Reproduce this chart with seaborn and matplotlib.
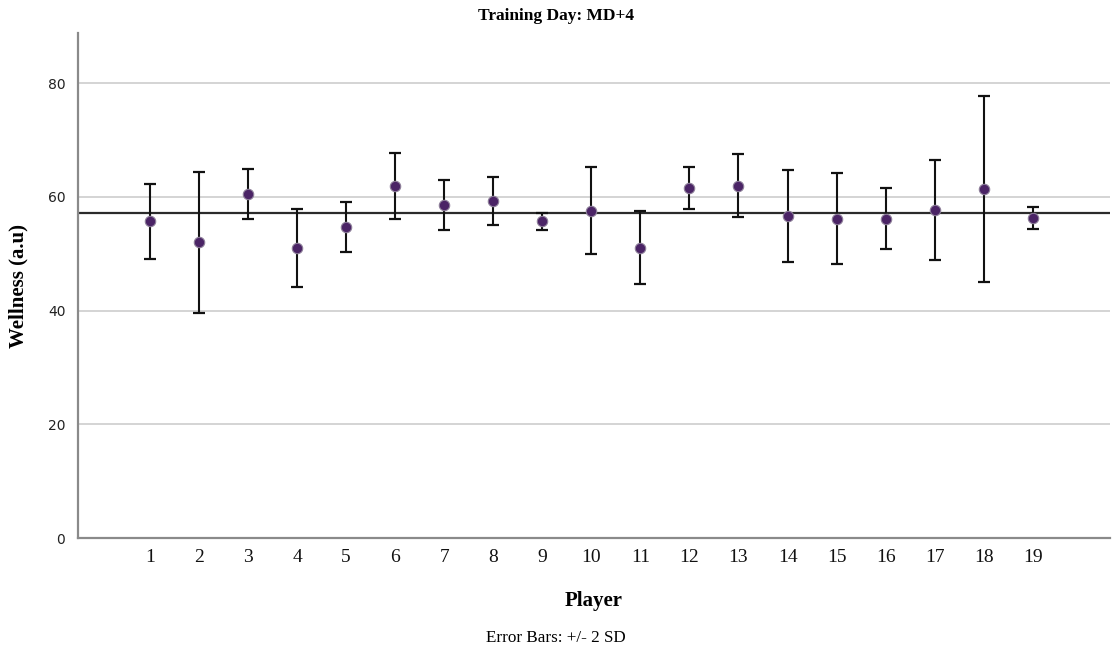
import matplotlib

matplotlib.use("Agg")

import matplotlib.pyplot as plt
import numpy as np
import seaborn as sns


PLAYERS = [str(i) for i in range(1, 20)]
MEAN_WELLNESS = [55.7, 52.0, 60.6, 51.0, 54.8, 62.0, 58.6, 59.3, 55.7, 57.6,
                 51.1, 61.6, 62.0, 56.6, 56.2, 56.2, 57.7, 61.4, 56.3]
SD_WELLNESS = [3.3, 6.2, 2.2, 3.45, 2.2, 2.9, 2.2, 2.1, 0.75, 3.8,
               3.2, 1.85, 2.75, 4.05, 4.0, 2.7, 4.4, 8.2, 0.98]
GROUP_MEAN = 57.2
Y_TICKS = [0, 20, 40, 60, 80]

SERIF = ["Liberation Serif", "DejaVu Serif"]


def main() -> None:
    sns.set_theme(style="white", context="notebook")
    plt.rcParams["font.family"] = ["DejaVu Sans"]
    plt.rcParams["text.color"] = "black"
    plt.rcParams["axes.labelcolor"] = "black"

    fig = plt.figure(figsize=(11.12, 6.5), dpi=100)
    ax = fig.add_axes([0.070, 0.172, 0.928, 0.777])

    mean = np.asarray(MEAN_WELLNESS)
    sd = np.asarray(SD_WELLNESS)

    ax.yaxis.grid(True, color="#c9c9c9", linewidth=1.1, zorder=0)
    ax.set_axisbelow(True)

    ax.axhline(GROUP_MEAN, color="#2b2b2b", linewidth=1.6, zorder=2)

    ax.errorbar(
        np.arange(len(PLAYERS)),
        mean,
        yerr=2 * sd,
        fmt="none",
        ecolor="#111111",
        elinewidth=1.5,
        capsize=4.6,
        capthick=1.6,
        zorder=3,
    )
    sns.pointplot(
        x=PLAYERS,
        y=mean,
        errorbar=None,
        linestyle="none",
        marker="o",
        markersize=7.5,
        color="#4b2466",
        markeredgecolor="#8d7f99",
        markeredgewidth=0.8,
        ax=ax,
        zorder=4,
    )

    ax.set_xlim(-1.47, 19.57)
    ax.set_ylim(0, 88.8)
    ax.set_yticks(Y_TICKS)
    ax.tick_params(axis="y", labelsize=10, length=0, pad=9, labelcolor="#222222")
    ax.tick_params(axis="x", length=0, pad=8)
    for label in ax.get_xticklabels():
        label.set_fontfamily(SERIF)
        label.set_fontsize(14)
        label.set_color("#111111")

    sns.despine(ax=ax, top=True, right=True)
    for side in ("left", "bottom"):
        ax.spines[side].set_color("#8a8a8a")
        ax.spines[side].set_linewidth(1.6)

    ax.set_xlabel("Player", family=SERIF, fontsize=15, fontweight="bold", labelpad=18)
    ax.set_ylabel("Wellness (a.u)", family=SERIF, fontsize=15, fontweight="bold", labelpad=14)

    fig.text(0.5, 0.976, "Training Day: MD+4", ha="center", va="center",
             family=SERIF, fontsize=12.5, fontweight="bold")
    fig.text(0.5, 0.018, "Error Bars: +/- 2 SD", ha="center", va="center",
             family=SERIF, fontsize=12.3)

    fig.savefig("out.png", dpi=100)
    plt.close(fig)


if __name__ == "__main__":
    main()
